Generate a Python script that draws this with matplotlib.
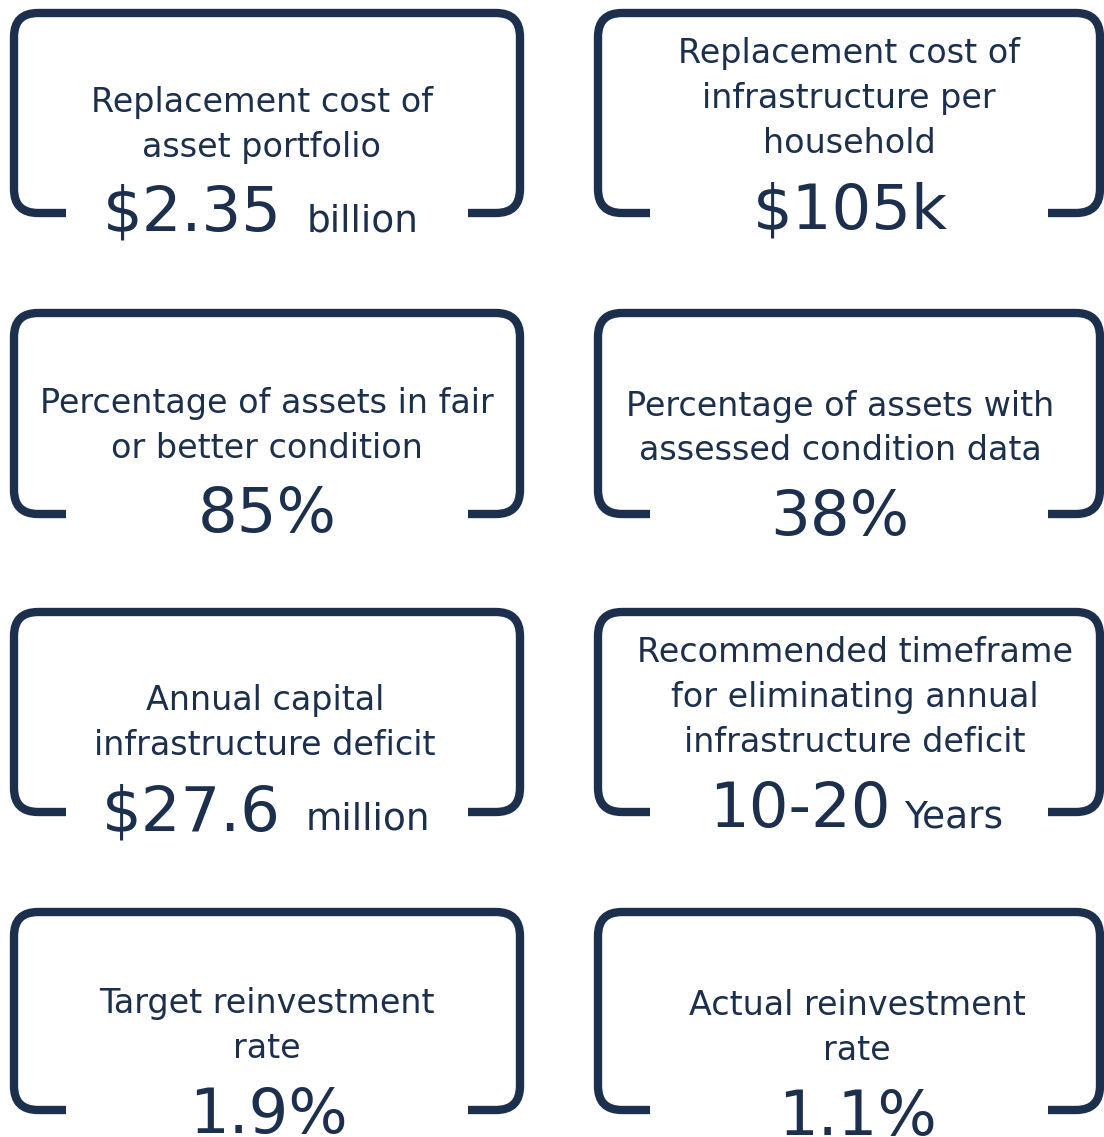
import matplotlib
matplotlib.use("Agg")
import matplotlib.pyplot as plt
from matplotlib.path import Path
from matplotlib.patches import PathPatch

# ---- data ----
titles = [
    ["Replacement cost of", "asset portfolio"],
    ["Replacement cost of", "infrastructure per", "household"],
    ["Percentage of assets in fair", "or better condition"],
    ["Percentage of assets with", "assessed condition data"],
    ["Annual capital", "infrastructure deficit"],
    ["Recommended timeframe", "for eliminating annual", "infrastructure deficit"],
    ["Target reinvestment", "rate"],
    ["Actual reinvestment", "rate"],
]
values = ["$2.35", "$105k", "85%", "38%", "$27.6", "10-20", "1.9%", "1.1%"]
units = ["billion", "", "", "", "million", "Years", "", ""]

# ---- layout ----
W, H = 1104, 1137
NAVY = "#1c2f4d"
card_left = [14, 598]
card_right = [520, 1100]
row_top = [13, 313, 612, 912]
row_bot = [213, 514, 812, 1110]
seg = 52
rad = 24
title_cx = [262, 849, 267, 840, 265, 855, 267, 857]
value_cx = [261, 850, 267, 840, 266, 856, 268, 858]
title_base = [[112, 157], [63, 108, 153], [413, 458], [416, 460],
              [710, 755], [662, 707, 752], [1013, 1058], [1015, 1060]]
value_base = [231, 228, 532, 535, 830, 827, 1133, 1135]
unit_gap = [25, 0, 0, 0, 25, 13, 0, 0]

fig = plt.figure(figsize=(W / 100, H / 100), dpi=100)
ax = fig.add_axes([0, 0, 1, 1])
ax.set_xlim(0, W)
ax.set_ylim(H, 0)
ax.axis("off")

FONT = "DejaVu Sans"

def bracket(x0, x1, y0, y1):
    verts = [
        (x0 + seg, y1), (x0 + rad, y1),
        (x0, y1), (x0, y1 - rad),
        (x0, y0 + rad),
        (x0, y0), (x0 + rad, y0),
        (x1 - rad, y0),
        (x1, y0), (x1, y0 + rad),
        (x1, y1 - rad),
        (x1, y1), (x1 - rad, y1),
        (x1 - seg, y1),
    ]
    codes = [Path.MOVETO, Path.LINETO,
             Path.CURVE3, Path.CURVE3,
             Path.LINETO,
             Path.CURVE3, Path.CURVE3,
             Path.LINETO,
             Path.CURVE3, Path.CURVE3,
             Path.LINETO,
             Path.CURVE3, Path.CURVE3,
             Path.LINETO]
    p = PathPatch(Path(verts, codes), fill=False, edgecolor=NAVY,
                  linewidth=6.0, capstyle="butt", joinstyle="round")
    ax.add_patch(p)

fig.canvas.draw()
renderer = fig.canvas.get_renderer()

for i in range(len(values)):
    r, c = divmod(i, 2)
    bracket(card_left[c], card_right[c], row_top[r], row_bot[r])
    for line, yb in zip(titles[i], title_base[i]):
        ax.text(title_cx[i], yb, line, ha="center", va="baseline",
                fontsize=24, color=NAVY, family=FONT)
    tv = ax.text(0, value_base[i], values[i], ha="left", va="baseline",
                 fontsize=45, color=NAVY, family=FONT)
    pieces = [tv]
    if units[i]:
        tu = ax.text(0, value_base[i], units[i], ha="left", va="baseline",
                     fontsize=27, color=NAVY, family=FONT)
        pieces.append(tu)
    fig.canvas.draw()
    wv = tv.get_window_extent(renderer).width
    total = wv
    if units[i]:
        wu = tu.get_window_extent(renderer).width
        total = wv + unit_gap[i] + wu
    start = value_cx[i] - total / 2
    tv.set_x(start)
    if units[i]:
        tu.set_x(start + wv + unit_gap[i])

fig.savefig("out.png", dpi=100, facecolor="white")
